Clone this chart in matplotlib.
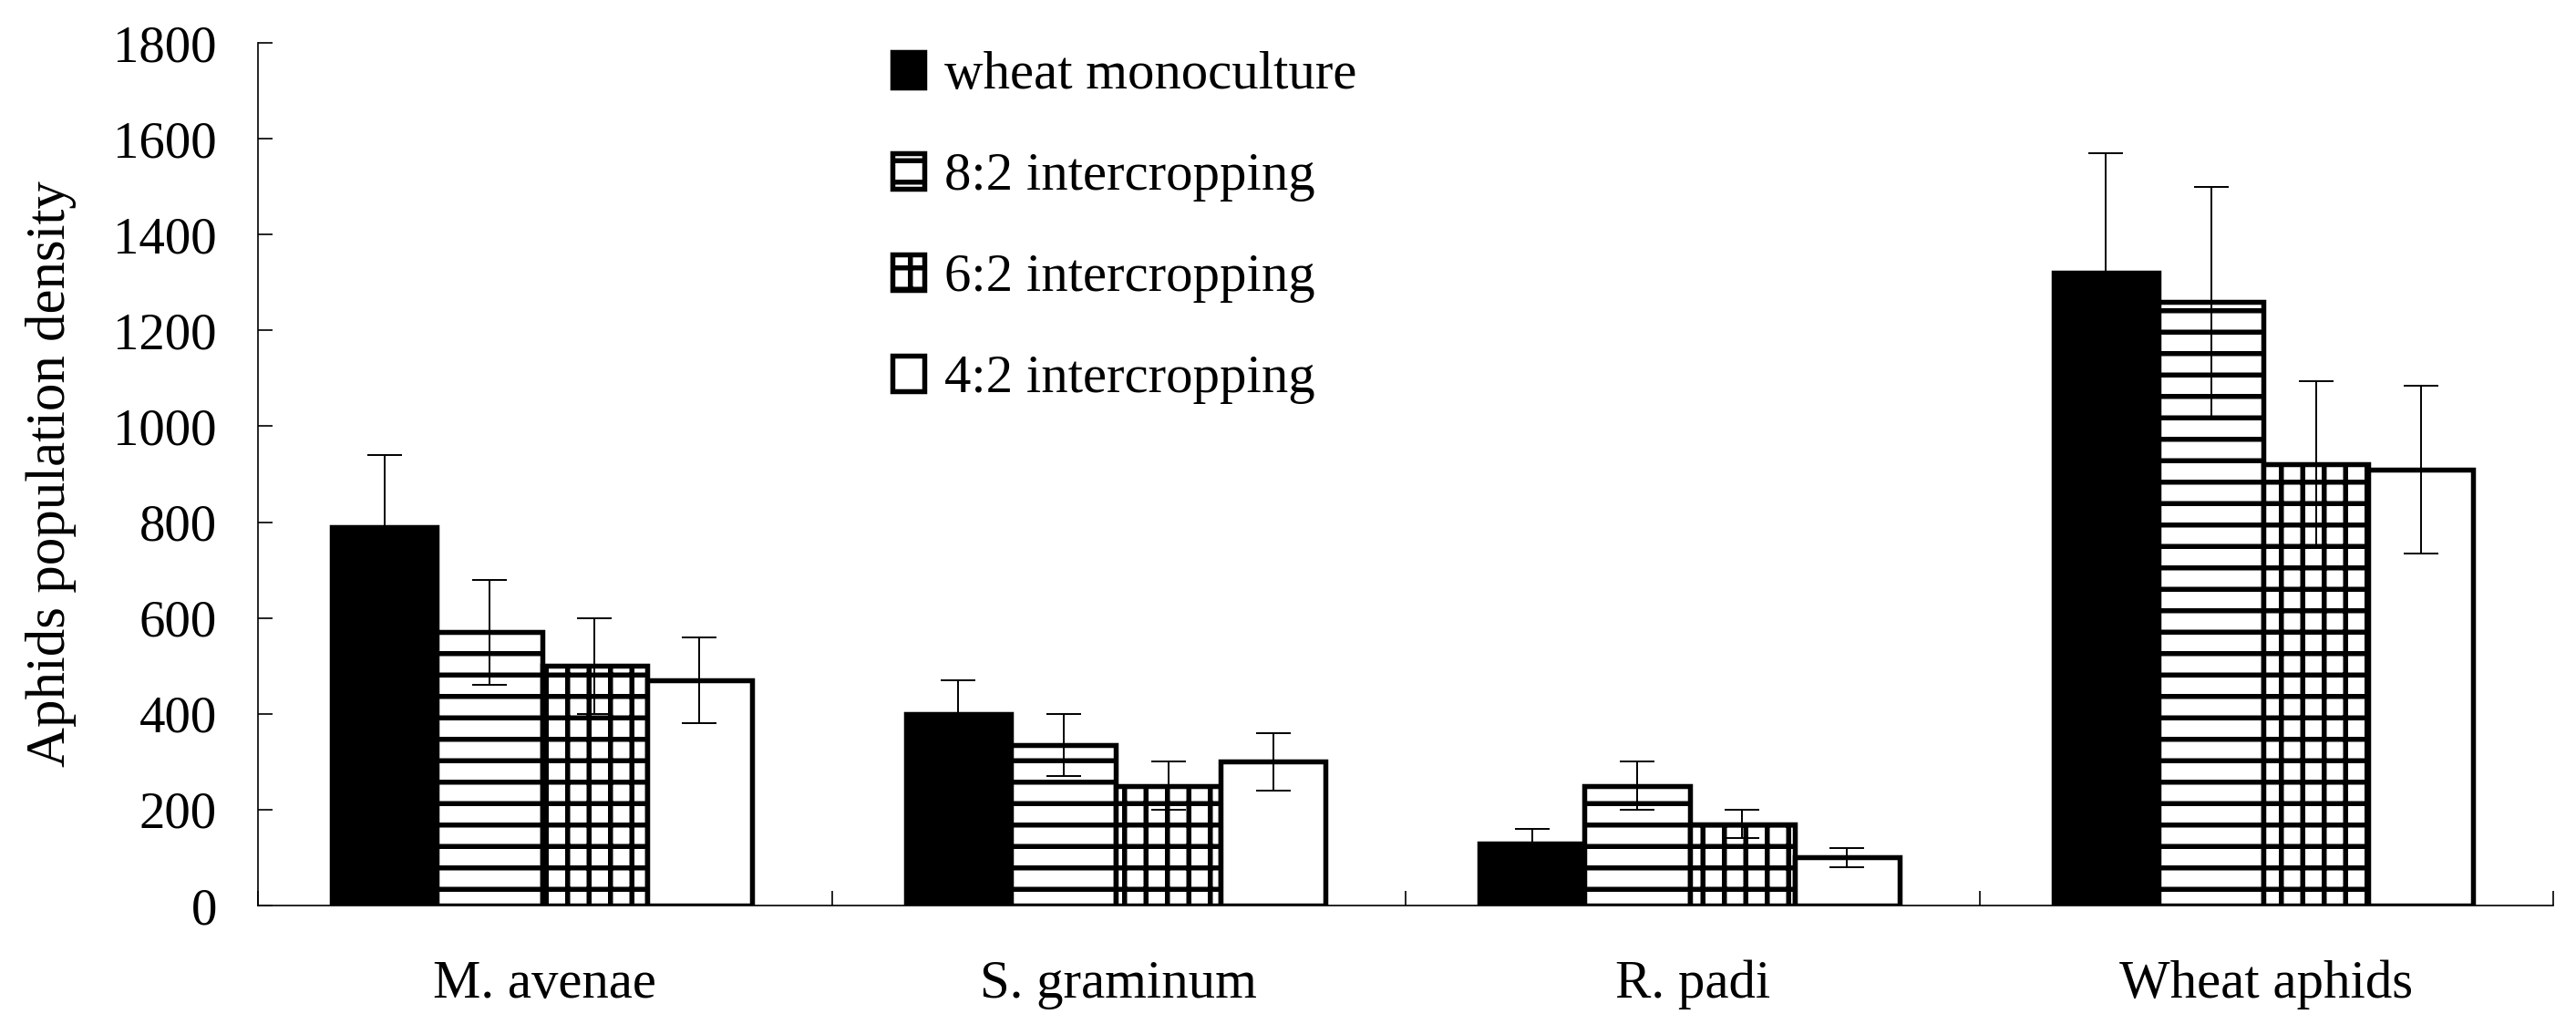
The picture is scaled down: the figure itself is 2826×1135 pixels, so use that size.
import numpy as np
import matplotlib
matplotlib.use('Agg')
import matplotlib.pyplot as plt

# data
species = ['M. avenae', 'S. graminum', 'R. padi', 'Wheat aphids']
treatments = ['wheat monoculture', '8:2 intercropping', '6:2 intercropping', '4:2 intercropping']
mono = [790, 400, 130, 1320]
mono_err = [150, 70, 30, 250]
ic82 = [570, 335, 250, 1260]
ic82_err = [110, 65, 50, 240]
ic62 = [500, 250, 170, 920]
ic62_err = [100, 50, 30, 175]
ic42 = [470, 300, 100, 910]
ic42_err = [90, 60, 20, 175]
yticks = [0, 200, 400, 600, 800, 1000, 1200, 1400, 1600, 1800]

DPI = 141.3
plt.rcParams['font.family'] = ['Liberation Serif', 'DejaVu Serif']
plt.rcParams['hatch.linewidth'] = 2.8
plt.rcParams['hatch.color'] = 'black'

fig = plt.figure(figsize=(2826 / DPI, 1135 / DPI), dpi=DPI)
ax = fig.add_axes([283 / 2826, 1 - 993 / 1135, (2801 - 283) / 2826, (993 - 47) / 1135])

x = np.arange(len(species))
w = 0.183
series = [(mono, mono_err, 'black', ''),
          (ic82, ic82_err, 'white', '-'),
          (ic62, ic62_err, 'white', '+'),
          (ic42, ic42_err, 'white', '')]

handles = []
for i, (vals, errs, fc, hatch) in enumerate(series):
    pos = x + (i - 1.5) * w - 0.005
    b = ax.bar(pos, vals, w, color=fc, edgecolor='black', linewidth=2.8,
               hatch=hatch, label=treatments[i], zorder=1)
    handles.append(b)
    ax.errorbar(pos, vals, yerr=errs, fmt='none', ecolor='black',
                elinewidth=1.0, capsize=9.7, capthick=1.0, zorder=3)

ax.set_xlim(-0.5, len(species) - 0.5)
ax.set_ylim(0, 1800)
ax.set_yticks(yticks)
ax.set_xticks(x)
ax.set_xticklabels(species, fontsize=30)
ax.set_xticks(np.arange(-0.5, len(species)), minor=True)
ax.tick_params(axis='x', which='major', length=0, pad=30.5)
ax.tick_params(axis='x', which='minor', direction='in', length=8.2, width=0.85)
ax.tick_params(axis='y', direction='in', length=8.2, width=0.85, pad=23, labelsize=29)

for s in ['top', 'right']:
    ax.spines[s].set_visible(False)
for s in ['left', 'bottom']:
    ax.spines[s].set_linewidth(0.85)

ax.set_ylabel('Aphids population density', fontsize=31)
ax.yaxis.set_label_coords(-0.079, 0.5)

ax.legend(handles=handles, loc='upper left', bbox_to_anchor=(979 / 2826, 1 - 56 / 1135),
          bbox_transform=fig.transFigure, frameon=False, fontsize=30,
          handlelength=0.6, handleheight=0.63, handletextpad=0.36,
          labelspacing=0.97, borderpad=0, borderaxespad=0)

fig.savefig('out.png', dpi=DPI)
